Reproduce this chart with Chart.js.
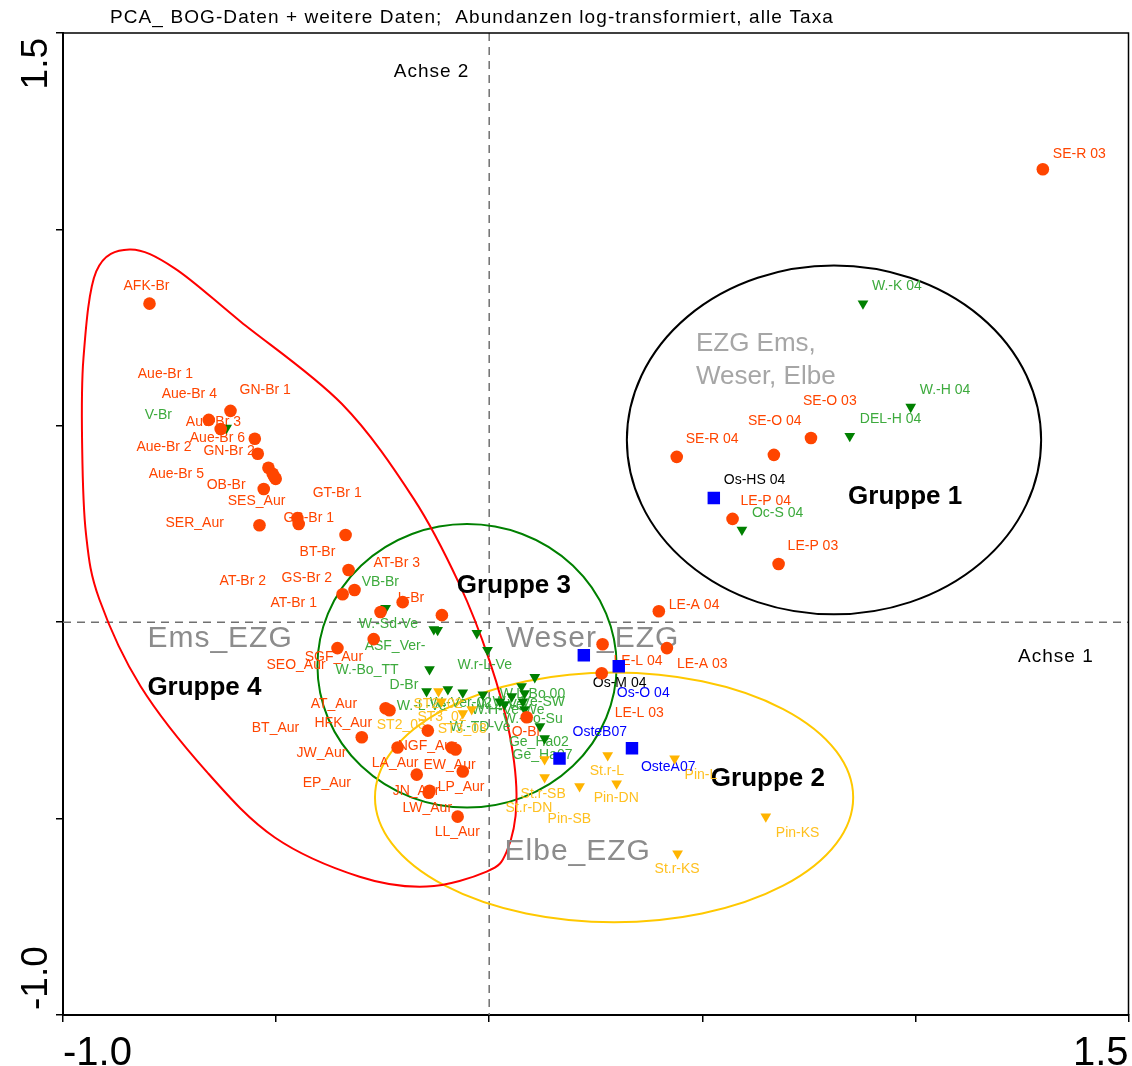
<!DOCTYPE html>
<html>
<head>
<meta charset="utf-8">
<title>PCA BOG-Daten</title>
<script src="https://cdn.jsdelivr.net/npm/chart.js@4.4.1/dist/chart.umd.min.js"></script>
<style>
  html, body { margin: 0; padding: 0; background: #fff; }
  #wrap { width: 1132px; height: 1066px; }
</style>
</head>
<body>
<div id="wrap"><canvas id="pca" width="1132" height="1066"></canvas></div>
<script>
// --- site scores (axis 1 / axis 2) ---

// circles: Brandenburg, Aurich, Lenne, Sieg
const circleNames = ['SE-R 03', 'AFK-Br', 'Aue-Br 1', 'Aue-Br 4', 'GN-Br 1', 'Aue-Br 3', 'Aue-Br 6', 'GN-Br 2',
  'Aue-Br 5', 'OB-Br', 'Aue-Br 2', 'SES_Aur', 'SER_Aur', 'GS-Br 1', 'GT-Br 1', 'BT-Br', 'AT-Br 3', 'GS-Br 2',
  'AT-Br 2', 'AT-Br 1', 'L-Br', '', 'SEO_Aur', 'SGF_Aur', 'AT_Aur', 'HFK_Aur', 'BT_Aur', 'JW_Aur', 'EP_Aur',
  'LA_Aur', 'NGF_Aur', 'EW_Aur', 'LP_Aur', 'JN_Aur', 'LW_Aur', 'LL_Aur', 'O-Br', 'LE-A 04', 'LE-A 03',
  'LE-L 04', 'LE-L 03', 'SE-O 03', 'SE-O 04', 'SE-R 04', 'LE-P 04', 'LE-P 03'];
const circleAx1 = [1.299, -0.797, -0.658, -0.630, -0.607, -0.550, -0.543, -0.518, -0.508, -0.501, -0.504, -0.529,
  -0.539, -0.450, -0.447, -0.337, -0.330, -0.316, -0.344, -0.255, -0.203, -0.111, -0.356, -0.271, -0.243, -0.234,
  -0.299, -0.215, -0.170, -0.144, -0.088, -0.079, -0.062, -0.142, -0.140, -0.074, 0.088, 0.398, 0.417, 0.266,
  0.264, 0.755, 0.668, 0.440, 0.571, 0.679];
const circleAx2 = [1.153, 0.811, 0.515, 0.492, 0.538, 0.467, 0.429, 0.393, 0.378, 0.365, 0.370, 0.339, 0.247,
  0.265, 0.250, 0.222, 0.133, 0.082, 0.071, 0.026, 0.051, 0.018, -0.066, -0.043, -0.219, -0.224, -0.293, -0.319,
  -0.388, -0.276, -0.319, -0.324, -0.380, -0.434, -0.429, -0.495, -0.242, 0.028, -0.066, -0.056, -0.130, 0.469,
  0.426, 0.421, 0.263, 0.148];

// green triangles: Weser sites
const greenNames = ['V-Br', 'VB-Br', 'W.-Sd-Ve', 'ASF_Ver-', '', 'W.r-L-Ve', 'W.-Bo_TT', 'D-Br', 'W.-L-Ve',
  'W.-Ver-02', 'W.-TD-Ve', 'W.L-Bo 00', 'W.L-Ve-SW', 'W.H-Ve-We', 'W.-Bo-Su', 'W.Z-Ve', '', '', '',
  'Ge_Ha02', 'Ge_Ha07', 'W.-K 04', 'W.-H 04', 'DEL-H 04', 'Oc-S 04'];
const greenAx1 = [-0.616, -0.243, -0.130, -0.121, -0.029, -0.004, -0.140, -0.147, -0.097, -0.062, -0.015, 0.107,
  0.076, 0.083, 0.053, 0.025, 0.036, 0.079, 0.083, 0.119, 0.130, 0.877, 0.989, 0.846, 0.593];
const greenAx2 = [0.495, 0.036, -0.018, -0.020, -0.028, -0.071, -0.120, -0.176, -0.171, -0.179, -0.184, -0.140,
  -0.163, -0.181, -0.189, -0.202, -0.209, -0.202, -0.222, -0.265, -0.296, 0.811, 0.548, 0.474, 0.235];

// yellow triangles: Elbe sites
const yellowNames = ['ST2_02', 'ST3_02', 'ST2_03', 'ST3_03', 'St.r-SB', 'St.r-DN', 'Pin-SB', 'St.r-L', 'Pin-DN',
  'Pin-L', 'Pin-KS', 'St.r-KS'];
const yellowAx1 = [-0.119, -0.112, -0.062, -0.041, 0.130, 0.130, 0.212, 0.278, 0.299, 0.435, 0.649, 0.442];
const yellowAx2 = [-0.176, -0.202, -0.232, -0.222, -0.349, -0.395, -0.418, -0.339, -0.411, -0.347, -0.495, -0.589];

// blue squares: Oste sites
const blueNames = ['Os-HS 04', 'Os-M 04', 'Os-O 04', 'OsteB07', 'OsteA07'];
const blueAx1 = [0.527, 0.222, 0.304, 0.165, 0.335];
const blueAx2 = [0.316, -0.084, -0.112, -0.347, -0.321];

// axis ticks
const axisMin = -1.0;
const axisMax = 1.5;
const tickStep = 0.5;
const tickLabels = [-1.0, 1.5];

// group envelope (Gruppe 4), drawn as closed spline
const hullAx1 = [-0.844, -0.738, -0.583, -0.346, -0.177, -0.070, 0.001, 0.048, 0.064, 0.041, -0.006, -0.147,
  -0.304, -0.503, -0.661, -0.818, -0.915, -0.946, -0.955, -0.952, -0.922];
const hullAx2 = [0.949, 0.901, 0.765, 0.556, 0.314, 0.097, -0.099, -0.286, -0.457, -0.584, -0.635, -0.673,
  -0.648, -0.548, -0.383, -0.163, 0.059, 0.224, 0.444, 0.672, 0.893];

// group ellipses: centre and half axes
const ellipseNames = ['Gruppe 1', 'Gruppe 3', 'Gruppe 2'];
const ellipseCx = [0.809, -0.052, 0.293];
const ellipseCy = [0.464, -0.111, -0.446];
const ellipseRx = [0.486, 0.351, 0.561];
const ellipseRy = [0.444, 0.361, 0.318];

// --- styling ---
const FONT = 'Arial, "Liberation Sans", Helvetica, sans-serif';
const ellipseColors = ['#000000', '#008000', '#FFC800'];
const hullColor = '#FF0000';

// label placement in px relative to the symbol (left edge, vertical middle)
const circleLabelOffsets = [[10, -15], [-26, -17], [-71, -46], [-59, -35], [9, -21], [-69, -17], [-68, -16],
  [-65, -17], [-124, 0], [-69, 6], [-138, -30], [-36, 12], [-94, -2], [-14, 0], [14, -31], [-46, 17], [25, -7],
  [-73, -12], [-123, -13], [-110, -9], [-5, -4], [0, 0], [-71, 17], [-69, 18], [-75, -4], [-75, 13], [-110, -9],
  [-101, 6], [-114, 9], [-56, 33], [-54, -1], [-32, 16], [-25, 16], [-36, -2], [-27, 17], [-23, 16], [-15, 15],
  [10, -6], [10, 16], [11, 17], [13, 40], [-8, -37], [-26, -34], [9, -18], [8, -18], [9, -18]];
const greenLabelOffsets = [[-82, -13], [-24, -26], [-75, -5], [-73, 16], [0, 0], [-30, 15], [-94, 1], [-37, -6],
  [-51, 17], [-33, 11], [-33, 33], [-35, 17], [-29, 16], [-53, 17], [-9, 23], [-22, 4], [0, 0], [0, 0], [0, 0],
  [-31, 16], [-32, 17], [9, -17], [9, -17], [10, -17], [10, -17]];
const yellowLabelOffsets = [[-25, 13], [-24, 16], [-86, 12], [-34, 20], [-24, 35], [-39, 31], [-32, 33], [-18, 16],
  [-23, 14], [10, 17], [10, 17], [-23, 16]];
const blueLabelOffsets = [[10, -18], [9, 28], [-2, 27], [13, -26], [9, 19]];
const blueLabelColors = ['#000000', '#000000', '#0000FF', '#0000FF', '#0000FF'];

// free text inside the plot (left edge, vertical middle, in axis units)
const notes = [
  { text: 'EZG Ems,', x: 0.485, y: 0.709, font: '26px ' + FONT, color: '#A6A6A6' },
  { text: 'Weser, Elbe', x: 0.485, y: 0.625, font: '26px ' + FONT, color: '#A6A6A6' },
  { text: 'Ems_EZG', x: -0.802, y: -0.043, font: '30px ' + FONT, color: '#8C8C8C', spacing: 1 },
  { text: 'Weser_EZG', x: 0.039, y: -0.043, font: '30px ' + FONT, color: '#8C8C8C', spacing: 1 },
  { text: 'Elbe_EZG', x: 0.036, y: -0.584, font: '30px ' + FONT, color: '#8C8C8C', spacing: 1 },
  { text: 'Achse 2', x: -0.224, y: 1.401, font: '19px ' + FONT, color: '#000', spacing: 1 },
  { text: 'Achse 1', x: 1.241, y: -0.089, font: '19px ' + FONT, color: '#000', spacing: 1 },
  { text: 'Gruppe 1', x: 0.842, y: 0.319, font: 'bold 26px ' + FONT, color: '#000' },
  { text: 'Gruppe 2', x: 0.520, y: -0.398, font: 'bold 26px ' + FONT, color: '#000' },
  { text: 'Gruppe 3', x: -0.076, y: 0.092, font: 'bold 26px ' + FONT, color: '#000' },
  { text: 'Gruppe 4', x: -0.802, y: -0.168, font: 'bold 26px ' + FONT, color: '#000' }
];

const points = (xs, ys) => xs.map((x, i) => ({ x: x, y: ys[i] }));

const labelSets = [
  { names: circleNames, offsets: circleLabelOffsets, color: () => '#FF4500' },
  { names: greenNames, offsets: greenLabelOffsets, color: () => '#3DAA3D' },
  { names: yellowNames, offsets: yellowLabelOffsets, color: () => '#FFC020' },
  { names: blueNames, offsets: blueLabelOffsets, color: i => blueLabelColors[i] }
];

function closedSpline(ctx, pts) {
  const n = pts.length;
  ctx.moveTo(pts[0][0], pts[0][1]);
  for (let i = 0; i < n; i++) {
    const p0 = pts[(i - 1 + n) % n], p1 = pts[i], p2 = pts[(i + 1) % n], p3 = pts[(i + 2) % n];
    ctx.bezierCurveTo(
      p1[0] + (p2[0] - p0[0]) / 6, p1[1] + (p2[1] - p0[1]) / 6,
      p2[0] - (p3[0] - p1[0]) / 6, p2[1] - (p3[1] - p1[1]) / 6,
      p2[0], p2[1]);
  }
  ctx.closePath();
}

const pcaDecor = {
  id: 'pcaDecor',
  beforeDatasetsDraw(chart) {
    const ctx = chart.ctx, area = chart.chartArea;
    const sx = chart.scales.x, sy = chart.scales.y;
    ctx.save();
    ctx.beginPath();
    ctx.rect(area.left, area.top, area.right - area.left, area.bottom - area.top);
    ctx.clip();

    // dashed zero lines
    ctx.strokeStyle = '#707070';
    ctx.lineWidth = 1.5;
    ctx.setLineDash([8, 6]);
    ctx.beginPath();
    ctx.moveTo(sx.getPixelForValue(0), area.top);
    ctx.lineTo(sx.getPixelForValue(0), area.bottom);
    ctx.moveTo(area.left, sy.getPixelForValue(0));
    ctx.lineTo(area.right, sy.getPixelForValue(0));
    ctx.stroke();
    ctx.setLineDash([]);

    // group ellipses
    ctx.lineWidth = 2;
    ellipseCx.forEach((cx, i) => {
      const px = sx.getPixelForValue(cx), py = sy.getPixelForValue(ellipseCy[i]);
      const rx = Math.abs(sx.getPixelForValue(cx + ellipseRx[i]) - px);
      const ry = Math.abs(sy.getPixelForValue(ellipseCy[i] + ellipseRy[i]) - py);
      ctx.strokeStyle = ellipseColors[i];
      ctx.beginPath();
      ctx.ellipse(px, py, rx, ry, 0, 0, Math.PI * 2);
      ctx.stroke();
    });

    // Gruppe 4 envelope
    const hull = hullAx1.map((x, i) => [sx.getPixelForValue(x), sy.getPixelForValue(hullAx2[i])]);
    ctx.strokeStyle = hullColor;
    ctx.beginPath();
    closedSpline(ctx, hull);
    ctx.stroke();

    // annotations
    ctx.textAlign = 'left';
    ctx.textBaseline = 'middle';
    notes.forEach(n => {
      ctx.font = n.font;
      ctx.fillStyle = n.color;
      ctx.letterSpacing = (n.spacing || 0) + 'px';
      ctx.fillText(n.text, sx.getPixelForValue(n.x), sy.getPixelForValue(n.y));
    });
    ctx.letterSpacing = '0px';

    // site labels, symbols are drawn over them afterwards
    ctx.font = '14px ' + FONT;
    labelSets.forEach((set, d) => {
      const meta = chart.getDatasetMeta(d);
      set.names.forEach((name, i) => {
        if (!name) return;
        const el = meta.data[i];
        ctx.fillStyle = set.color(i);
        ctx.fillText(name, el.x + set.offsets[i][0], el.y + set.offsets[i][1]);
      });
    });
    ctx.restore();
  },
  afterDraw(chart) {
    const ctx = chart.ctx, area = chart.chartArea;
    const sy = chart.scales.y;
    ctx.save();
    // top and right frame
    ctx.strokeStyle = '#000';
    ctx.lineWidth = 1.5;
    ctx.beginPath();
    ctx.moveTo(area.left, area.top);
    ctx.lineTo(area.right, area.top);
    ctx.lineTo(area.right, area.bottom);
    ctx.stroke();

    // title
    ctx.fillStyle = '#000';
    ctx.font = '19px ' + FONT;
    ctx.letterSpacing = '1.1px';
    ctx.textAlign = 'left';
    ctx.textBaseline = 'middle';
    ctx.fillText('PCA_ BOG-Daten + weitere Daten;  Abundanzen log-transformiert, alle Taxa', 110, 18);
    ctx.letterSpacing = '0px';

    // rotated y tick labels, kept inside the axis range
    ctx.font = '37px ' + FONT;
    ctx.textBaseline = 'alphabetic';
    tickLabels.forEach((v, i) => {
      ctx.save();
      const py = sy.getPixelForValue(v);
      ctx.translate(area.left - 16, i === 0 ? py - 5 : py + 5);
      ctx.rotate(-Math.PI / 2);
      ctx.textAlign = i === 0 ? 'left' : 'right';
      ctx.fillText(v.toFixed(1), 0, 0);
      ctx.restore();
    });
    ctx.restore();
  }
};

new Chart(document.getElementById('pca'), {
  type: 'scatter',
  data: {
    datasets: [
      { label: 'Kreise', data: points(circleAx1, circleAx2), pointStyle: 'circle', pointRadius: 6.3,
        backgroundColor: '#FF4500', borderWidth: 0 },
      { label: 'Weser', data: points(greenAx1, greenAx2), pointStyle: 'triangle', pointRotation: 180,
        pointRadius: 6.2, backgroundColor: '#008000', borderWidth: 0 },
      { label: 'Elbe', data: points(yellowAx1, yellowAx2), pointStyle: 'triangle', pointRotation: 180,
        pointRadius: 6.2, backgroundColor: '#FFB400', borderWidth: 0 },
      { label: 'Oste', data: points(blueAx1, blueAx2), pointStyle: 'rect', pointRadius: 8.8,
        backgroundColor: '#0000FF', borderWidth: 0 }
    ]
  },
  options: {
    responsive: false,
    animation: false,
    layout: { autoPadding: false, padding: { top: 33, right: 3.5, left: 0, bottom: 0 } },
    plugins: { legend: { display: false }, tooltip: { enabled: false } },
    scales: {
      x: {
        type: 'linear', min: axisMin, max: axisMax,
        afterFit: s => { s.height = 51; s.paddingLeft = 0; s.paddingRight = 0; },
        ticks: {
          stepSize: tickStep, align: 'inner', autoSkip: false, maxRotation: 0, padding: 8,
          color: '#000', font: { family: FONT, size: 40 },
          callback: v => tickLabels.includes(v) ? v.toFixed(1) : ''
        },
        grid: { drawOnChartArea: false, tickLength: 7, color: '#000', lineWidth: 1.5 },
        border: { color: '#000', width: 2 }
      },
      y: {
        type: 'linear', min: axisMin, max: axisMax,
        afterFit: s => { s.width = 63; s.paddingTop = 0; s.paddingBottom = 0; },
        ticks: { stepSize: tickStep, display: false },
        grid: { drawOnChartArea: false, tickLength: 7, color: '#000', lineWidth: 1.5 },
        border: { color: '#000', width: 2 }
      }
    }
  },
  plugins: [pcaDecor]
});
</script>
</body>
</html>
